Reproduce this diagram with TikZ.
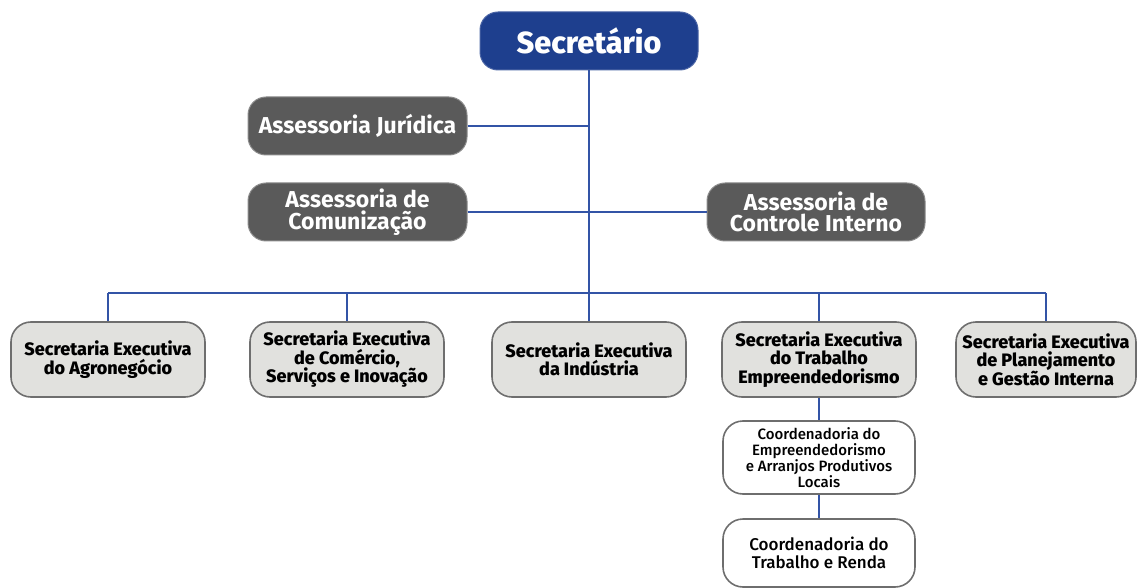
\documentclass[tikz,border=0pt]{standalone}
\usepackage{fontspec}
\setmainfont{Fira Sans}
\newfontfamily\pesada{Fira Sans ExtraBold}
\newfontfamily\media{Fira Sans Medium}
\definecolor{azulSec}{HTML}{1E3F8E}
\definecolor{azulLinha}{HTML}{3354A6}
\definecolor{cinzaEsc}{HTML}{5A5A5A}
\definecolor{cinzaBorda}{HTML}{6E6E6E}
\definecolor{cinzaClaro}{HTML}{E1E1DE}
\begin{document}
\begin{tikzpicture}[
			x=1pt, y=-1pt,
			linha/.style={line width=1.8pt, azulLinha},
			secretario/.style={rounded corners=18pt, fill=azulSec, draw=azulSec!80!white,
				line width=1pt, text=white, align=center,
				minimum width=218pt, minimum height=58pt,
				font=\fontsize{30.5}{30}\selectfont\pesada},
			assessoria/.style={rounded corners=18pt, fill=cinzaEsc, draw=cinzaEsc!70!white,
				line width=1pt, text=white, align=center,
				minimum width=219pt, minimum height=58pt,
				font=\fontsize{23}{21.5}\selectfont\bfseries},
			executiva/.style={rounded corners=20pt, fill=cinzaClaro, draw=cinzaBorda,
				line width=1.6pt, text=black, align=center,
				minimum width=194pt, minimum height=75pt,
				font=\fontsize{18}{18.5}\selectfont\pesada},
			coordenadoria/.style={rounded corners=20pt, fill=white, draw=cinzaBorda,
				line width=1.6pt, text=black, align=center,
				minimum width=192pt, minimum height=73pt,
				font=\fontsize{15}{16}\selectfont\media}]
			
			\useasboundingbox (0,0) rectangle (1138,588);
			
			%% --- topo ---
			\node[secretario] (sec) at (589,41) {Secret\'ario};
			
			%% --- assessorias ---
			\node[assessoria] (jur) at (357.5,126) {Assessoria Jur\'idica};
			\node[assessoria] (com) at (357.5,212) {Assessoria de\\Comuniza\c{c}\~ao};
			\node[assessoria, minimum width=218pt] (ctrl) at (816,212) {Assessoria de\\Controle Interno};
			
			%% --- secretarias executivas ---
			\node[executiva] (agro) at (108,359.5) {Secretaria Executiva\\do Agroneg\'ocio};
			\node[executiva] (come) at (347,359.5) {Secretaria Executiva\\de Com\'ercio,\\Servi\c{c}os e Inova\c{c}\~ao};
			\node[executiva] (ind) at (589,359.5) {Secretaria Executiva\\da Ind\'ustria};
			\node[executiva] (trab) at (819,359.5) {Secretaria Executiva\\do Trabalho\\Empreendedorismo};
			\node[executiva, minimum width=180pt] (plan) at (1046,359.5) {Secretaria Executiva\\de Planejamento\\e Gest\~ao Interna};
			
			%% --- coordenadorias ---
			\node[coordenadoria] (emp) at (819,457.5) {Coordenadoria do\\Empreendedorismo\\e Arranjos Produtivos\\Locais};
			\node[coordenadoria, minimum height=68pt, font=\fontsize{17}{18}\selectfont\media] (renda) at (819,553) {Coordenadoria do\\Trabalho e Renda};
			
			%% --- ligacoes ---
			\coordinate (bus) at (589,293);
			\draw[linha] (sec.south) -- (bus);
			\draw[linha] (jur.east) -- (jur.east -| sec.south);
			\draw[linha] (com.east) -- (ctrl.west);
			\draw[linha] (agro.north |- bus) -- (plan.north |- bus);
			\foreach \n in {agro,come,ind,trab,plan}
				\draw[linha] (\n.north) -- (\n.north |- bus);
			\draw[linha] (trab.south) -- (emp.north);
			\draw[linha] (emp.south) -- (renda.north);
			
		\end{tikzpicture}
\end{document}
